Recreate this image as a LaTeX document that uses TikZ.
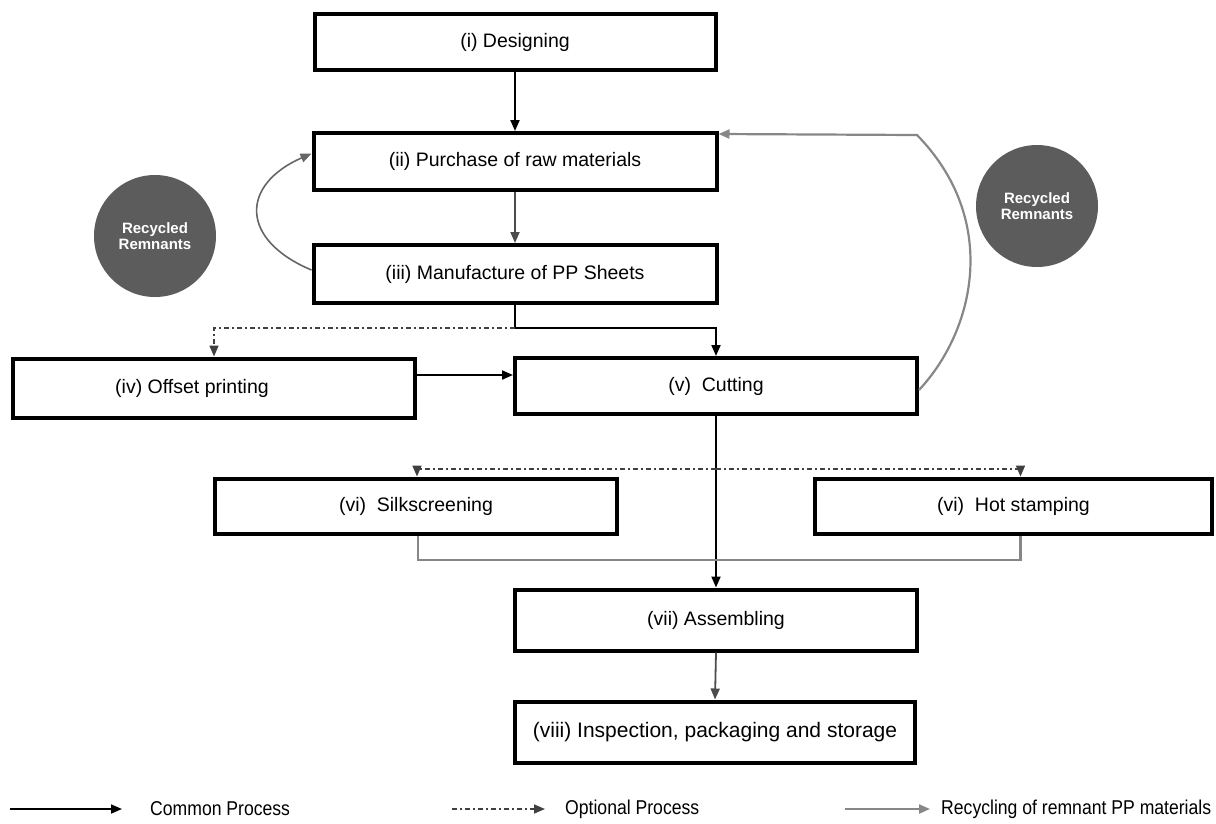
\documentclass[tikz,border=0pt]{standalone}
\usepackage{fontspec}
\setmainfont{Liberation Sans}
\usetikzlibrary{arrows.meta}
\definecolor{recgray}{RGB}{135,135,135}
\definecolor{ballgray}{RGB}{92,92,92}
\tikzset{
 procbox/.style={draw=black, line width=4pt, fill=white, inner sep=0pt, font=\fontsize{19.5}{22}\selectfont},
 tipped/.style={-{Triangle[length=11pt,width=9pt]}},
 common/.style={draw=black, line width=2pt, tipped},
 commonplain/.style={draw=black, line width=2pt},
 thingray/.style={draw=black!70, line width=1.8pt, tipped},
 optional/.style={draw=black!75, line width=1.6pt, dash pattern=on 5pt off 3pt on 2pt off 3pt, tipped},
 recyc/.style={draw=recgray, line width=2.2pt, tipped},
 recycplain/.style={draw=recgray, line width=2.4pt},
 ball/.style={circle, fill=ballgray, minimum size=122pt, inner sep=0pt, text=white, font=\fontsize{15}{16.5}\selectfont\bfseries, align=center},
 legtext/.style={anchor=west, font=\fontsize{20}{22}\selectfont, inner sep=0pt},
}
\newcommand{\narrowtxt}[1]{\scalebox{0.88}[1]{#1}}
\begin{document}
\begin{tikzpicture}[x=1pt,y=-1pt]
\useasboundingbox (0,0) rectangle (1216,823);

% recycled remnants balls
\node[ball] (rr1) at (155,236) {Recycled\\Remnants};
\node[ball] (rr2) at (1037,206) {Recycled\\Remnants};

% process boxes
\node[procbox, minimum width=401pt, minimum height=56pt] (d1) at (515,42) {(i) Designing};
\node[procbox, minimum width=403pt, minimum height=57pt] (d2) at (515,161.5) {(ii) Purchase of raw materials};
\node[procbox, minimum width=403pt, minimum height=58pt] (d3) at (515,274) {(iii) Manufacture of PP Sheets};
\node[procbox, minimum width=402pt, minimum height=59pt] (d4) at (214,388) {\hspace*{-44pt}(iv) Offset printing};
\node[procbox, minimum width=402pt, minimum height=56pt] (d5) at (716,386) {(v)\hspace{0.55em}Cutting};
\node[procbox, minimum width=402pt, minimum height=55pt] (d6) at (416,506) {(vi)\hspace{0.55em}Silkscreening};
\node[procbox, minimum width=397pt, minimum height=55pt] (d7) at (1013.5,506) {(vi)\hspace{0.55em}Hot stamping};
\node[procbox, minimum width=402pt, minimum height=61pt] (d8) at (716,620) {(vii) Assembling};
\node[procbox, minimum width=400pt, minimum height=61pt, font=\fontsize{21}{24}\selectfont] (d9) at (715,732) {(viii) Inspection, packaging and storage};

% junction coordinates
\coordinate (j1) at (515,328);
\coordinate (j2) at (716,469);
\coordinate (j3) at (418,560);
\coordinate (h375) at (0,375);
\coordinate (rc) at (917,135);

% common process
\draw[common] (d1.south) -- (d2.north);
\draw[thingray] (d2.south) -- (d3.north);
\draw[common] (d3.south) -- (j1) -| (d5.north);
\draw[common] (d4.east |- h375) -- (d5.west |- h375);
\draw[common] (d5.south) -- (d8.north);
\draw[thingray] (d8.south) -- (d9.north);

% optional process
\draw[optional] (j1) -| (d4.north);
\draw[optional] (j2) -| ([xshift=1pt]d6.north);
\draw[optional] (j2) -| ([xshift=7pt]d7.north);

% joining line below the two optional steps
\draw[recycplain] ([xshift=2pt]d6.south) -- ([xshift=2pt]d6.south |- j3) -| ([xshift=7pt]d7.south);

% recycling
\draw[recyc] ([yshift=-4pt]d5.east) .. controls (975,330) and (1000,220) .. (rc) -- ([yshift=-3pt]d2.north east);
\draw[draw=black!60, line width=1.6pt, tipped] ([yshift=4pt]d3.west) .. controls (240,240) and (240,185) .. ([yshift=8pt]d2.west);

% legend
\coordinate (l1a) at (10,809);
\coordinate (l1b) at (122,809);
\coordinate (l2a) at (452,809);
\coordinate (l2b) at (545,809);
\coordinate (l3a) at (845,809);
\coordinate (l3b) at (930,809);
\draw[common, line width=1.6pt] (l1a) -- (l1b);
\draw[optional] (l2a) -- (l2b);
\draw[recyc] (l3a) -- (l3b);
\node[legtext] (lt1) at (150,809) {\narrowtxt{Common Process}};
\node[legtext] (lt2) at (565,809) {\narrowtxt{Optional Process}};
\node[legtext] (lt3) at (941,809) {\narrowtxt{Recycling of remnant PP materials}};
\end{tikzpicture}
\end{document}
